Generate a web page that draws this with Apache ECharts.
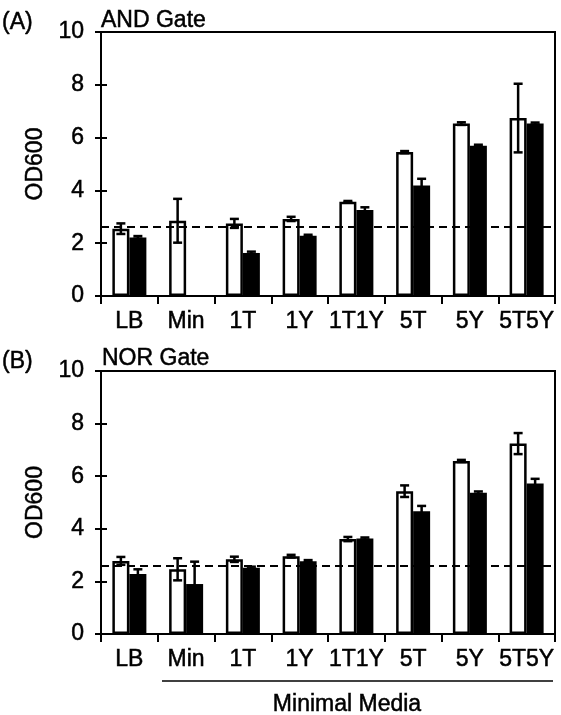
<!DOCTYPE html>
<html><head><meta charset="utf-8">
<script src="https://cdn.jsdelivr.net/npm/echarts@6/dist/echarts.min.js"></script>
<style>html,body{margin:0;padding:0;background:#fff}#c{width:561px;height:715px}</style>
</head><body><div id="c"></div>
<script>
const categories = ['LB','Min','1T','1Y','1T1Y','5T','5Y','5T5Y'];
const yTicks = {min:0, max:10, interval:2};
// Panel A: AND Gate
const andWhite = [2.55, 2.85, 2.75, 2.92, 3.57, 5.45, 6.53, 6.74];
const andWhiteErr = [0.2, 0.83, 0.17, 0.08, 0.03, 0.04, 0.05, 1.3];
const andBlack = [2.22, null, 1.63, 2.28, 3.26, 4.19, 5.69, 6.53];
const andBlackErr = [0.05, null, 0.05, 0.04, 0.1, 0.25, 0.04, 0.04];
const andThreshold = 2.63;
// Panel B: NOR Gate
const norWhite = [2.78, 2.46, 2.84, 2.96, 3.61, 5.43, 6.58, 7.24];
const norWhiteErr = [0.15, 0.42, 0.1, 0.05, 0.08, 0.22, 0.04, 0.4];
const norBlack = [2.28, 1.90, 2.52, 2.77, 3.63, 4.67, 5.37, 5.72];
const norBlackErr = [0.18, 0.85, 0.04, 0.04, 0.04, 0.2, 0.05, 0.18];
const norThreshold = 2.6;

const FONT = 'Liberation Sans';
const FS = 23;
const TB = 0.5; // slight text emboldening
const BW = 17;

const chart = echarts.init(document.getElementById('c'), null, {renderer:'canvas'});

function txt(extra){
  return Object.assign({color:'#000', fontFamily:FONT, fontSize:FS, textBorderColor:'#000', textBorderWidth:TB}, extra||{});
}
function xAxisDef(gi){
  return {type:'category', gridIndex:gi, data:categories, boundaryGap:true,
    axisLine:{lineStyle:{color:'#000', width:2}},
    axisTick:{show:true, inside:false, length:8, lineStyle:{color:'#000', width:2}},
    axisLabel:txt({interval:0, margin:14})};
}
function yAxisDef(gi, main){
  const a = {type:'value', gridIndex:gi, min:yTicks.min, max:yTicks.max, interval:yTicks.interval,
    position:'left', splitLine:{show:false},
    axisLine:{show:true, lineStyle:{color:'#000', width:2}},
    axisTick:{show:true, inside:!main, length:6, lineStyle:{color:'#000', width:2}},
    axisLabel:txt({show:main, margin:17})};
  if (main){
    a.name = 'OD600'; a.nameLocation = 'middle'; a.nameGap = 49; a.nameRotate = 90;
    a.nameTextStyle = txt();
  }
  return a;
}
function barSeries(gi, vals, white, thr){
  const s = {type:'bar', xAxisIndex:gi, yAxisIndex:gi*2, data:vals, barWidth:BW, barGap:'0%',
    itemStyle: white ? {color:'#fff', borderColor:'#000', borderWidth:2.5} : {color:'#000'},
    z:2};
  if (white){
    s.markLine = {silent:true, symbol:'none', label:{show:false},
      lineStyle:{color:'#000', type:[8,5], width:2}, data:[{yAxis:thr}], z:5};
  }
  return s;
}
function errSeries(gi, vals, errs, side){
  const data = [];
  vals.forEach((v,i)=>{ if (v!=null) data.push([i, v, errs[i]]); });
  return {type:'custom', xAxisIndex:gi, yAxisIndex:gi*2, data:data, z:10,
    encode:{x:0, y:1},
    renderItem:function(params, api){
      const i = api.value(0), v = api.value(1), e = api.value(2);
      const c = api.coord([i, v]);
      const hi = api.coord([i, v+e]);
      const lo = api.coord([i, v-e]);
      const x = c[0] + side*BW/2;
      const st = {stroke:'#000', lineWidth:2.5};
      return {type:'group', children:[
        {type:'line', shape:{x1:x, y1:hi[1], x2:x, y2:lo[1]}, style:st},
        {type:'line', shape:{x1:x-4.5, y1:hi[1], x2:x+4.5, y2:hi[1]}, style:st},
        {type:'line', shape:{x1:x-4.5, y1:lo[1], x2:x+4.5, y2:lo[1]}, style:st}
      ]};
    }};
}
function gtext(x, y, s, align){
  return {type:'text', x:x, y:y, style:{text:s, fill:'#000', font:FS+'px "'+FONT+'"',
    stroke:'#000', lineWidth:TB, textAlign:align||'left', textVerticalAlign:'top'}};
}

const option = {
  backgroundColor:'#fff',
  animation:false,
  grid:[
    {left:101, top:32, width:454, height:264, show:true, borderColor:'#000', borderWidth:2, backgroundColor:'transparent'},
    {left:101, top:371, width:454, height:263, show:true, borderColor:'#000', borderWidth:2, backgroundColor:'transparent'}
  ],
  xAxis:[xAxisDef(0), xAxisDef(1)],
  yAxis:[yAxisDef(0,true), yAxisDef(0,false), yAxisDef(1,true), yAxisDef(1,false)],
  series:[
    barSeries(0, andWhite, true, andThreshold),
    barSeries(0, andBlack, false),
    errSeries(0, andWhite, andWhiteErr, -1),
    errSeries(0, andBlack, andBlackErr, 1),
    barSeries(1, norWhite, true, norThreshold),
    barSeries(1, norBlack, false),
    errSeries(1, norWhite, norWhiteErr, -1),
    errSeries(1, norBlack, norBlackErr, 1)
  ],
  graphic:[
    gtext(2, 11, '(A)'),
    gtext(101, 9, 'AND Gate'),
    gtext(2, 350, '(B)'),
    gtext(102, 347, 'NOR Gate'),
    {type:'line', shape:{x1:162, y1:681, x2:553, y2:681}, style:{stroke:'#000', lineWidth:1.5}},
    gtext(347, 693, 'Minimal Media', 'center')
  ]
};
chart.setOption(option);
</script></body></html>
